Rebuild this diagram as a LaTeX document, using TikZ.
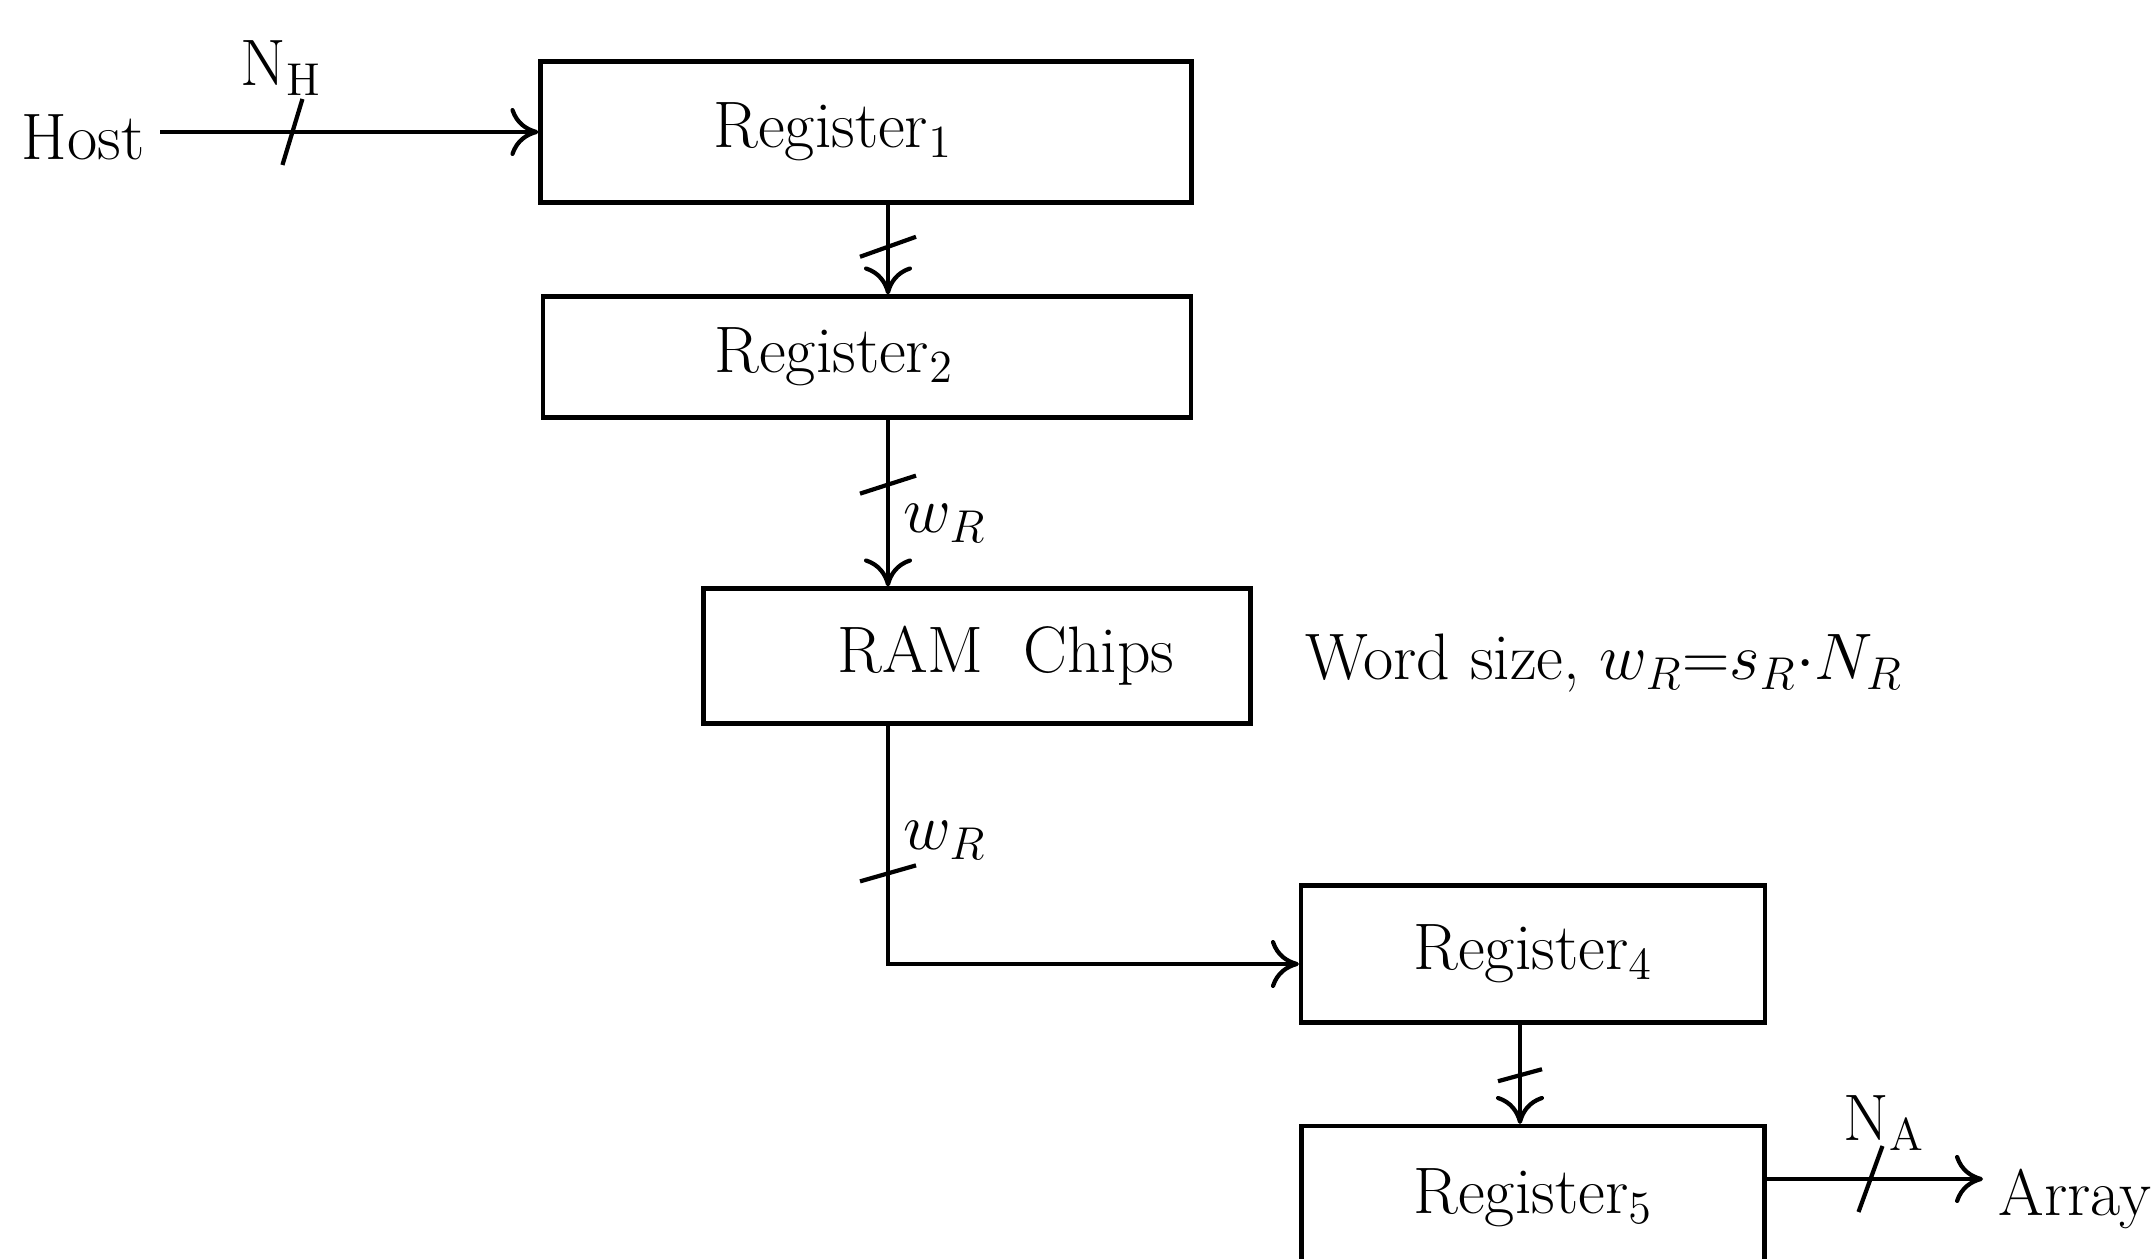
\RequirePackage{fix-cm}
\documentclass[tikz,border=0pt]{standalone}
\usepackage{amssymb}
\usepackage{tikz}
\usetikzlibrary{arrows.meta}

\begin{document}
\begin{tikzpicture}
	\tikzstyle{Reg}	= [draw, line width=1.2pt, inner sep=0pt, font=\fontsize{18.7}{22}\selectfont]
	\tikzstyle{Txt}	= [inner sep=0.15cm, font=\fontsize{18.7}{22}\selectfont]
	\tikzstyle{Bus}	= [line width=1.2pt, -{To[length=2.8mm,width=4.8mm]}]
	\tikzstyle{Tick}	= [line width=1.2pt]

	\useasboundingbox (0,0) rectangle (21.54,12.59);

	% boxes
	\node (reg1) at (8.66,11.27) [Reg, minimum width=6.51cm, minimum height=1.41cm] {\raisebox{-0.06cm}{Register$_1$}\hspace*{0.66cm}};
	\node (reg2) at (8.67,9.02) [Reg, minimum width=6.48cm, minimum height=1.21cm] {\raisebox{-0.06cm}{Register$_2$}\hspace*{0.66cm}};
	\node (ram) at (9.77,6.03) [Reg, minimum width=5.47cm, minimum height=1.35cm] {\hspace*{0.58cm}RAM\ \ Chips};
	\node (reg4) at (15.33,3.05) [Reg, minimum width=4.64cm, minimum height=1.37cm] {Register$_4$};
	\node (reg5) at (15.33,0.61) [Reg, minimum width=4.63cm, minimum height=1.44cm] {Register$_5$};

	% texts
	\node (host) at (1.60,10.99) [Txt, anchor=base east] {Host};
	\node (array) at (19.83,0.43) [Txt, anchor=base west] {Array};
	\node (nh) at (2.81,11.91) [Txt] {N$_{\mathrm{H}}$};
	\node (na) at (18.84,1.36) [Txt] {N$_{\mathrm{A}}$};
	\node (wsize) at (12.90,5.79) [Txt, anchor=base west] {Word size, $w_R{=}s_R{\cdot}N_R$};

	\coordinate (bus) at (8.88,0);
	\coordinate (bus2) at (15.20,0);
	\coordinate (hrow) at (0,2.95);
	\coordinate (arow) at (0,0.80);

	% connectors
	\draw (host.east |- reg1.west) -- coordinate[pos=0.35] (t1) (reg1.west) [Bus];
	\draw (reg1.south -| bus) -- coordinate[pos=0.47] (t2) (reg2.north -| bus) [Bus];
	\draw (reg2.south -| bus) -- coordinate[pos=0.39] (t3) node[Txt, pos=0.62, right] {$w_R$} (ram.north -| bus) [Bus];
	\draw (ram.south -| bus) |- coordinate[pos=0.31] (t4) node[Txt, pos=0.24, right] {$w_R$} (reg4.west |- hrow) [Bus];
	\draw (reg4.south -| bus2) -- coordinate[pos=0.51] (t5) (reg5.north -| bus2) [Bus];
	\draw (reg5.east |- arow) -- coordinate[pos=0.48] (t6) (array.west |- arow) [Bus];

	% bus width ticks
	\draw [Tick] ([shift={(-0.10,-0.33)}]t1) -- ([shift={(0.10,0.33)}]t1);
	\draw [Tick] ([shift={(-0.28,-0.10)}]t2) -- ([shift={(0.28,0.10)}]t2);
	\draw [Tick] ([shift={(-0.28,-0.09)}]t3) -- ([shift={(0.28,0.09)}]t3);
	\draw [Tick] ([shift={(-0.28,-0.08)}]t4) -- ([shift={(0.28,0.08)}]t4);
	\draw [Tick] ([shift={(-0.22,-0.06)}]t5) -- ([shift={(0.22,0.06)}]t5);
	\draw [Tick] ([shift={(-0.12,-0.33)}]t6) -- ([shift={(0.12,0.33)}]t6);
\end{tikzpicture}
\end{document}
